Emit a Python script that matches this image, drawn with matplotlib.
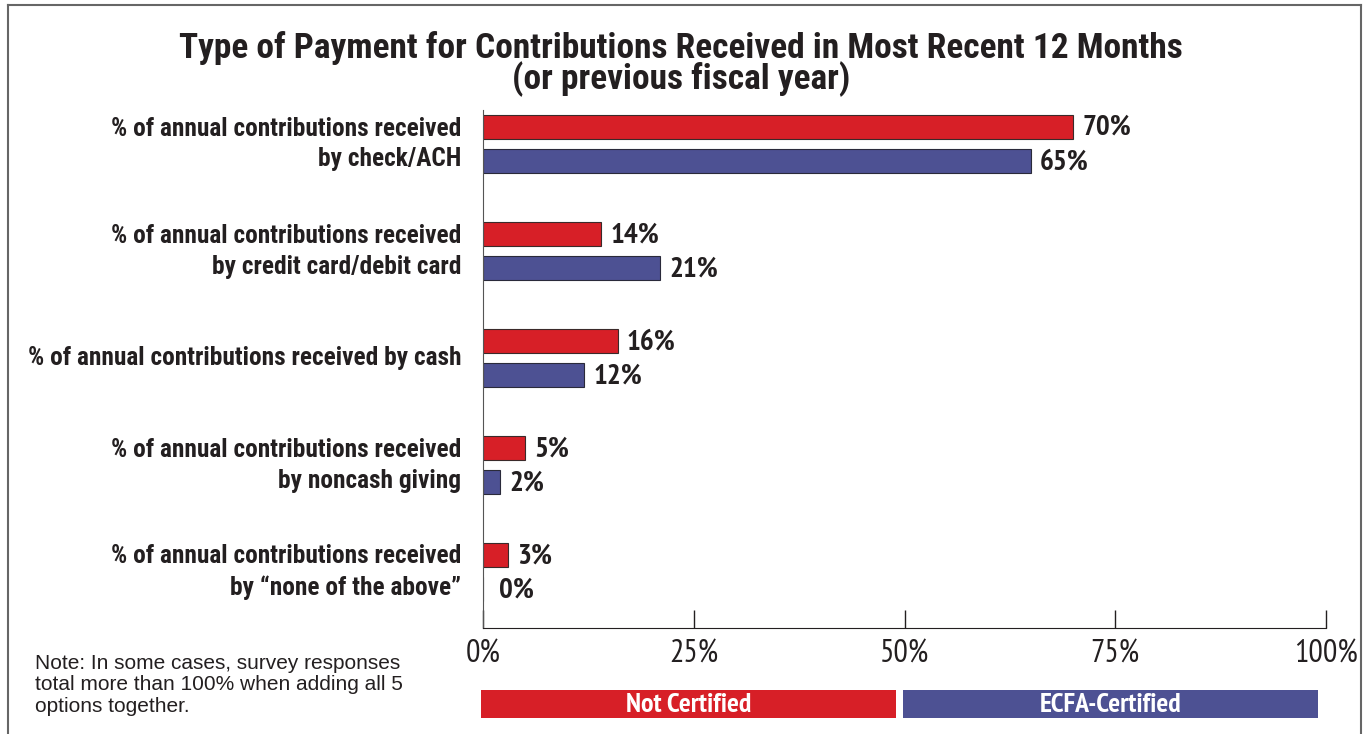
import matplotlib
matplotlib.use("Agg")
import matplotlib.pyplot as plt
from matplotlib.patches import Rectangle
from matplotlib.lines import Line2D

# Data
categories = [
    "% of annual contributions received\nby check/ACH",
    "% of annual contributions received\nby credit card/debit card",
    "% of annual contributions received by cash",
    "% of annual contributions received\nby noncash giving",
    "% of annual contributions received\nby \u201cnone of the above\u201d",
]
not_certified = [70, 14, 16, 5, 3]
ecfa_certified = [65, 21, 12, 2, 0]
series_names = ["Not Certified", "ECFA-Certified"]
xticks = [0, 25, 50, 75, 100]
xtick_labels = ["0%", "25%", "50%", "75%", "100%"]

RED = "#D71F27"
BLUE = "#4D5193"
INK = "#231f20"
HEAD = ["Roboto Condensed", "DejaVu Sans"]
NARROW = ["PT Sans Narrow", "DejaVu Sans"]
PLAIN = ["Liberation Sans", "DejaVu Sans"]

W, H = 1368, 734
fig = plt.figure(figsize=(W / 100, H / 100), dpi=100)

def fx(px):
    return px / W

def fy(py):
    return 1 - py / H

# Plot area: x from 0 to 100 spans pixels 483..1326, y spans 110..628
ax = fig.add_axes([fx(483), fy(628), fx(1326) - fx(483), fy(110) - fy(628)])

bar_h = 0.224
off = 0.159
ys = list(range(len(categories)))
ax.barh([y - off for y in ys], not_certified, height=bar_h, color=RED,
        edgecolor="#3a2a2a", linewidth=0.8)
ax.barh([y + off for y in ys], ecfa_certified, height=bar_h, color=BLUE,
        edgecolor="#2a2a3a", linewidth=0.8)

for y, v in zip(ys, not_certified):
    ax.annotate(f"{v}%", (v, y - off), xytext=(9, -1), textcoords="offset pixels",
                ha="left", va="center", fontsize=21, fontweight="bold",
                family=NARROW, color=INK)
for y, v in zip(ys, ecfa_certified):
    ax.annotate(f"{v}%", (v, y + off), xytext=(16 if v == 0 else 9, -1),
                textcoords="offset pixels", ha="left", va="center", fontsize=21,
                fontweight="bold", family=NARROW, color=INK)

ax.set_xlim(0, 100)
ax.set_ylim(4.52, -0.318)
ax.set_yticks([])
ax.set_xticks(xticks)
ax.set_xticklabels(xtick_labels, family=NARROW, fontsize=23, color=INK)
ax.tick_params(axis="x", direction="in", length=13, width=1, color=INK, pad=8)
for s in ["top", "right"]:
    ax.spines[s].set_visible(False)
ax.spines["left"].set_color("#555555")
ax.spines["bottom"].set_color(INK)

# Category labels to the left of the axis
for y, c in zip(ys, categories):
    ax.annotate(c, (0, y), xytext=(-22, 0), textcoords="offset pixels",
                ha="right", va="center", fontsize=18.3, fontweight="bold",
                family=HEAD, color=INK, linespacing=1.36, annotation_clip=False)

# Title
fig.text(fx(681), fy(64), "Type of Payment for Contributions Received in Most Recent 12 Months\n(or previous fiscal year)",
         ha="center", va="center", fontsize=25.5, fontweight="bold", family=HEAD,
         color=INK, linespacing=0.85)

# Legend bands
legend_boxes = [(481, 896, RED), (903, 1318, BLUE)]
for (x0, x1, col), name in zip(legend_boxes, series_names):
    fig.add_artist(Rectangle((fx(x0), fy(718)), fx(x1) - fx(x0), fy(690) - fy(718),
                             transform=fig.transFigure, facecolor=col, edgecolor="none"))
    fig.text((fx(x0) + fx(x1)) / 2, fy(705), name, ha="center", va="center",
             fontsize=20, fontweight="bold", family=NARROW, color="white")

# Note
fig.text(fx(35), fy(685), "Note: In some cases, survey responses\ntotal more than 100% when adding all 5\noptions together.",
         ha="left", va="center", fontsize=15, family=PLAIN, color=INK, linespacing=1.18)

# Outer frame
frame_col = "#666666"
fig.add_artist(Line2D([fx(8), fx(1361)], [fy(5), fy(5)], color=frame_col, lw=1.5))
fig.add_artist(Line2D([fx(8), fx(8)], [fy(5), 0], color=frame_col, lw=1.5))
fig.add_artist(Line2D([fx(1361), fx(1361)], [fy(5), 0], color=frame_col, lw=1.5))

fig.savefig("out.png", dpi=100)
